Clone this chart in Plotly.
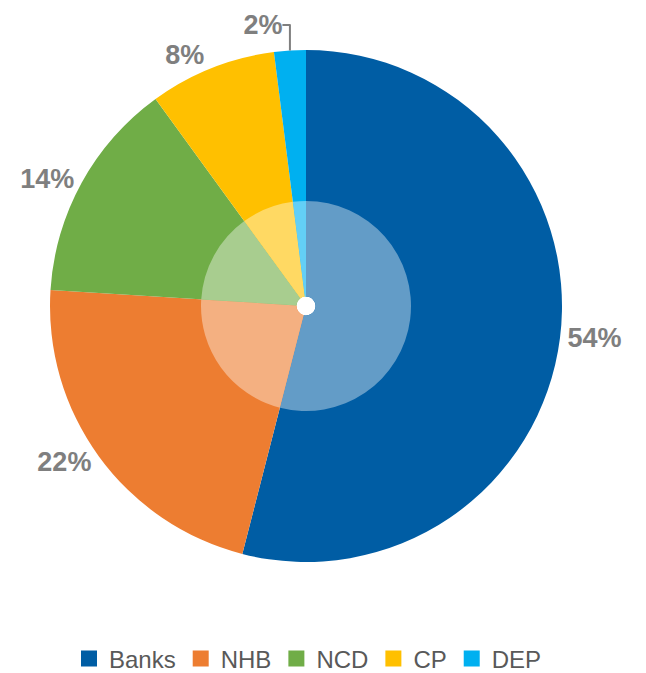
import plotly.graph_objects as go

categories = ["Banks", "NHB", "NCD", "CP", "DEP"]
values = [54, 22, 14, 8, 2]
colors = ["#005DA4", "#ED7D31", "#70AD47", "#FFC000", "#00B0F0"]

W, H = 646, 673

def lighten(hexc, a=0.39):
    r, g, b = int(hexc[1:3], 16), int(hexc[3:5], 16), int(hexc[5:7], 16)
    f = lambda c: int(round(c + (255 - c) * a))
    return "#%02X%02X%02X" % (f(r), f(g), f(b))

cx, cy, R, r_in, r_hole = 306, 306, 256, 105, 9.5

def dom(rad):
    return dict(x=[(cx - rad) / W, (cx + rad) / W],
                y=[(H - cy - rad) / H, (H - cy + rad) / H])

fig = go.Figure()
fig.add_trace(go.Pie(
    labels=categories, values=values, sort=False, direction="clockwise", rotation=0,
    marker=dict(colors=colors, line=dict(width=0)),
    hole=r_hole / R,
    domain=dom(R),
    textposition="outside", texttemplate="%{percent:.0%}",
    textfont=dict(family="Liberation Sans", size=27, color="#7F7F7F", weight="bold"),
    showlegend=False,
))
fig.add_trace(go.Pie(
    labels=categories, values=values, sort=False, direction="clockwise", rotation=0,
    marker=dict(colors=[lighten(c) for c in colors], line=dict(width=0)),
    hole=r_hole / r_in,
    domain=dom(r_in),
    textinfo="none", showlegend=False, hoverinfo="skip",
))
# legend entries (square swatches)
for name, col in zip(categories, colors):
    fig.add_trace(go.Scatter(
        x=[None], y=[None], mode="markers", name=name,
        marker=dict(symbol="square", size=16, color=col),
        hoverinfo="skip",
    ))

fig.update_layout(
    width=W, height=H,
    margin=dict(l=0, r=0, t=0, b=0, autoexpand=False),
    paper_bgcolor="white", plot_bgcolor="white",
    xaxis=dict(visible=False), yaxis=dict(visible=False),
    legend=dict(orientation="h", x=0.5 - 15 / W, xanchor="center",
                y=(H - 659) / H, yanchor="middle",
                font=dict(family="Liberation Sans", size=24, color="#595959"),
                itemsizing="trace"),
)
fig.write_html("out.html", config={"displayModeBar": False},
               post_script="document.body.style.margin='0';")
